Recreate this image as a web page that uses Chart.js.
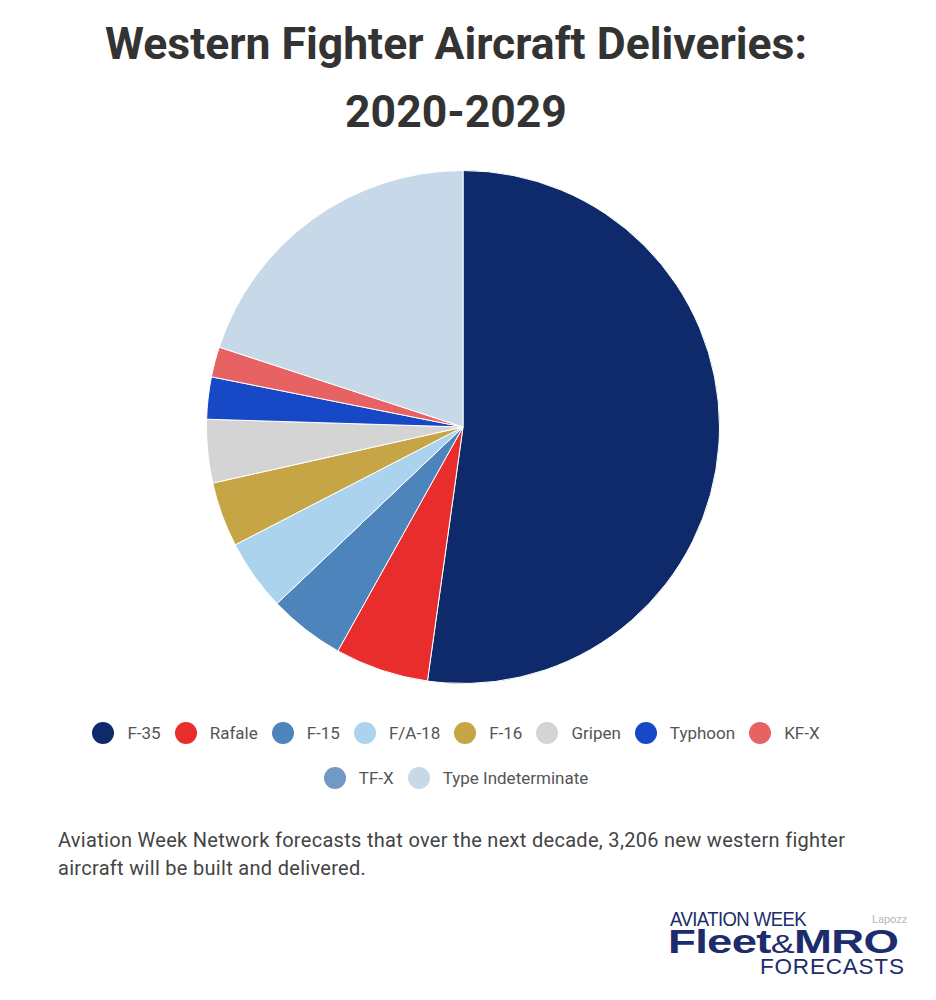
<!DOCTYPE html>
<html>
<head>
<meta charset="utf-8">
<script src="https://cdn.jsdelivr.net/npm/chart.js@4.4.1/dist/chart.umd.min.js"></script>
<style>
  html, body { margin: 0; padding: 0; background: #ffffff; }
  body { width: 936px; height: 1000px; position: relative; overflow: hidden; font-family: Roboto, "Noto Sans", sans-serif; }
  .title { position: absolute; left: 0; width: 912px; text-align: center; font-family: Roboto, sans-serif; font-weight: 700; font-size: 44.5px; line-height: 68px; color: #333333; white-space: nowrap; }
  #chartWrap { position: absolute; left: 195px; top: 159px; width: 536px; height: 536px; }
  .lrow { position: absolute; left: 0; width: 912px; height: 22px; display: flex; justify-content: center; align-items: center; }
  .litem { display: flex; align-items: center; margin: 0 7px; }
  .ldot { width: 22px; height: 22px; border-radius: 50%; margin-right: 13px; flex: none; }
  .ltext { font-family: Roboto, sans-serif; font-size: 17px; color: #555555; white-space: nowrap; }
  #note { position: absolute; left: 58px; top: 826px; font-family: Roboto, sans-serif; font-size: 20px; letter-spacing: 0.3px; line-height: 28px; color: #444444; white-space: nowrap; }
  .logo { position: absolute; font-family: "Liberation Sans", Arial, sans-serif; color: #1c2c6c; white-space: nowrap; transform-origin: 0 0; }
</style>
</head>
<body>
<div class="title" id="t1" style="top:10px;"></div>
<div class="title" id="t2" style="top:78px;"></div>
<div id="chartWrap"><canvas id="c" width="536" height="536"></canvas></div>
<div class="lrow" id="row1" style="top:722px;"></div>
<div class="lrow" id="row2" style="top:767px;"></div>
<div id="note">Aviation Week Network forecasts that over the next decade, 3,206 new western fighter<br>aircraft will be built and delivered.</div>
<div class="logo" style="left:670px; top:909px; font-size:19.5px; line-height:20px; letter-spacing:-0.6px; transform:scaleX(0.95);">AVIATION WEEK</div>
<div class="logo" style="left:668px; top:924px; font-size:33px; line-height:36px; font-weight:700; letter-spacing:-0.5px; transform:scaleX(1.38);">Fleet<span style="font-weight:400; font-size:26px;">&amp;</span>MRO</div>
<div class="logo" style="left:760px; top:955px; font-size:22.5px; line-height:24px; letter-spacing:0.8px;">FORECASTS</div>
<div style="position:absolute; left:872px; top:913px; font-family:Roboto, sans-serif; font-size:11px; color:#b8b8b8;">Lapozz</div>

<script>
const titleLines = ["Western Fighter Aircraft Deliveries:", "2020-2029"];
const labels = ["F-35", "Rafale", "F-15", "F/A-18", "F-16", "Gripen", "Typhoon", "KF-X", "TF-X", "Type Indeterminate"];
const deliveries = [1674, 189, 154, 144, 131, 128, 85, 61, 0, 640];
const colors = ["#0f2a6b", "#e82d2c", "#4d84bc", "#abd3ee", "#c5a545", "#d4d4d4", "#1748c5", "#e76263", "#7299c3", "#c7d9e8"];
const legendRows = [labels.slice(0, 8), labels.slice(8)];

document.getElementById("t1").textContent = titleLines[0];
document.getElementById("t2").textContent = titleLines[1];

const chart = new Chart(document.getElementById("c"), {
  type: "pie",
  data: {
    labels: labels,
    datasets: [{
      data: deliveries,
      backgroundColor: colors,
      borderColor: "#ffffff",
      borderWidth: 1
    }]
  },
  options: {
    responsive: false,
    animation: false,
    layout: { padding: 11 },
    plugins: {
      legend: { display: false },
      tooltip: { enabled: false },
      title: { display: false }
    }
  }
});

// HTML legend built from the chart's own labels and colours
const meta = chart.data;
legendRows.forEach((row, r) => {
  const el = document.getElementById(r === 0 ? "row1" : "row2");
  row.forEach(lab => {
    const i = meta.labels.indexOf(lab);
    const item = document.createElement("div");
    item.className = "litem";
    const dot = document.createElement("span");
    dot.className = "ldot";
    dot.style.background = meta.datasets[0].backgroundColor[i];
    const tx = document.createElement("span");
    tx.className = "ltext";
    tx.textContent = lab;
    item.appendChild(dot);
    item.appendChild(tx);
    el.appendChild(item);
  });
});
</script>
</body>
</html>
